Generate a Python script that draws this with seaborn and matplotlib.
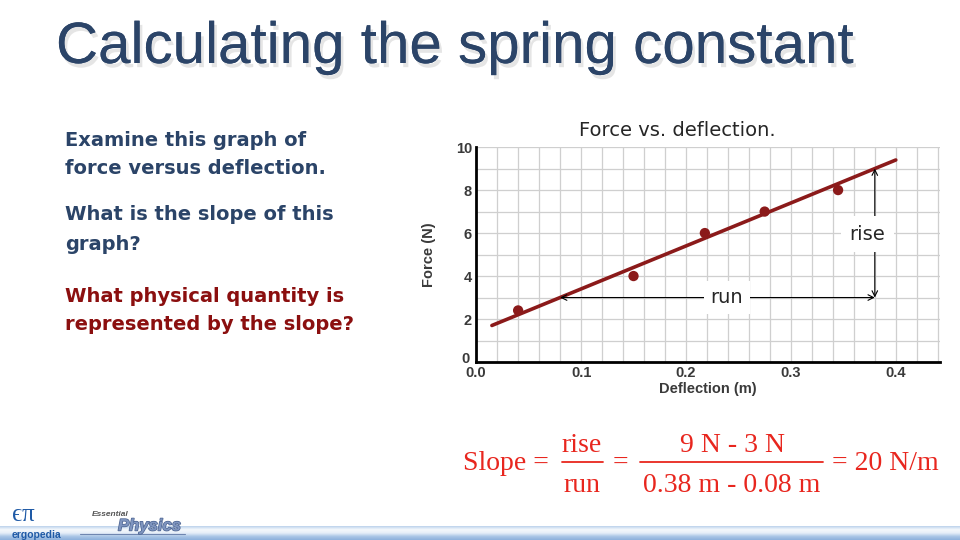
import numpy as np
import pandas as pd
import seaborn as sns
import matplotlib.pyplot as plt
from matplotlib.lines import Line2D
from matplotlib.ticker import MultipleLocator
from matplotlib.transforms import ScaledTranslation
import matplotlib.patheffects as pe

# measured points (deflection in m, force in N)
DEFLECTION = [0.04, 0.15, 0.218, 0.275, 0.345]
FORCE = [2.4, 4.0, 6.0, 7.0, 8.0]

# best-fit line end points
LINE_X = [0.015, 0.40]
LINE_Y = [1.7, 9.4]

X_TICKS = [0.0, 0.1, 0.2, 0.3, 0.4]
Y_TICKS = [0, 2, 4, 6, 8, 10]

RUN_X = [0.08, 0.38]
RISE_Y = [3, 9]

TITLE = "Calculating the spring constant"
LEFT_LINES = [
    ("Examine this graph of", 141, 'blue'),
    ("force versus deflection.", 169, 'blue'),
    ("What is the slope of this", 215, 'blue'),
    ("graph?", 245, 'blue'),
    ("What physical quantity is", 297, 'red'),
    ("represented by the slope?", 325, 'red'),
]
BLUE = "#2b4468"
DARK_RED = "#8b0f0f"
EQ_RED = "#e8261e"

sns.set_style("white")
plt.rcParams['font.family'] = ['Liberation Sans', 'DejaVu Sans']

fig = plt.figure(figsize=(9.6, 5.4), dpi=100)
fig.patch.set_facecolor("white")


def px(x, y):
    return x / 960, 1 - y / 540


# SLIDE TITLE
fig.text(*px(455, 63), TITLE, ha='center', va='baseline', fontsize=42, color=BLUE,
         path_effects=[pe.withSimplePatchShadow(offset=(2, -3), shadow_rgbFace='#9a9a9a', alpha=0.25),
                       pe.Normal()])

# LEFT TEXT
for line, y, c in LEFT_LINES:
    fig.text(*px(65, y), line, ha='left', va='center', fontsize=14, weight='bold',
             family='DejaVu Sans', color=BLUE if c == 'blue' else DARK_RED)

# GRAPH
ax = fig.add_axes([0.496, 0.3296, 0.483, 0.398])
pts = pd.DataFrame({'Deflection': DEFLECTION, 'Force': FORCE})
fit = pd.DataFrame({'Deflection': LINE_X, 'Force': LINE_Y})

sns.lineplot(data=fit, x='Deflection', y='Force', color='#8b1a1a', linewidth=2.6, ax=ax, zorder=3)
sns.scatterplot(data=pts, x='Deflection', y='Force', color='#8b1a1a', s=55, edgecolor='none',
                ax=ax, zorder=4)

ax.set_xlim(0, 0.442)
ax.set_ylim(0, 10)
ax.set_xticks(X_TICKS)
ax.set_yticks(Y_TICKS)
ax.set_xticklabels([f"{v:.1f}" for v in X_TICKS])
ax.xaxis.set_minor_locator(MultipleLocator(0.02))
ax.yaxis.set_minor_locator(MultipleLocator(1))
ax.grid(True, which='both', color='#cfcfcf', linewidth=0.9)
ax.set_axisbelow(True)
ax.tick_params(which='both', length=0, labelsize=10.5, labelcolor='#3a3a3a', pad=3)
for lab in ax.get_xticklabels() + ax.get_yticklabels():
    lab.set_fontweight('bold')
# nudge the y "0" up-left like the original
zero = ax.get_yticklabels()[0]
zero.set_transform(zero.get_transform() + ScaledTranslation(-2 / 100, 5 / 100, fig.dpi_scale_trans))
for side in ['top', 'right']:
    ax.spines[side].set_visible(False)
for side in ['left', 'bottom']:
    ax.spines[side].set_color('black')
    ax.spines[side].set_linewidth(2)

ax.set_xlabel("Deflection (m)", fontsize=10.5, weight='bold', color='#3a3a3a', labelpad=1)
ax.set_ylabel("Force (N)", fontsize=10.5, weight='bold', color='#3a3a3a', labelpad=14)

# run / rise arrows
ax.annotate("", xy=(RUN_X[0], RISE_Y[0]), xytext=(RUN_X[1], RISE_Y[0]),
            arrowprops=dict(arrowstyle='<->', color='black', lw=0.8, shrinkA=0, shrinkB=0), zorder=5)
ax.annotate("", xy=(RUN_X[1], RISE_Y[0]), xytext=(RUN_X[1], RISE_Y[1]),
            arrowprops=dict(arrowstyle='<->', color='black', lw=0.8, shrinkA=0, shrinkB=0), zorder=5)
ax.text(0.239, 3.0, "run", ha='center', va='center', fontsize=14, family='DejaVu Sans', zorder=6,
        bbox=dict(facecolor='white', edgecolor='none', pad=5))
ax.text(0.373, 5.95, "rise", ha='center', va='center', fontsize=14, family='DejaVu Sans', zorder=6,
        bbox=dict(facecolor='white', edgecolor='none', pad=6))

fig.text(*px(677, 131), "Force vs. deflection.", ha='center', va='center', fontsize=14,
         family='DejaVu Sans')

# SLOPE EQUATION
serif = ['Liberation Serif', 'DejaVu Serif']
eq = dict(fontsize=20, color=EQ_RED, family=serif, va='center')
fig.text(*px(463, 463), "Slope =", ha='left', **eq)
fig.text(*px(582, 445), "rise", ha='center', **eq)
fig.text(*px(582, 485), "run", ha='center', **eq)
fig.text(*px(620, 463), "=", ha='center', **eq)
fig.text(*px(732, 445), "9 N - 3 N", ha='center', **eq)
fig.text(*px(732, 485), "0.38 m - 0.08 m", ha='center', **eq)
fig.text(*px(832, 463), "= 20 N/m", ha='left', **eq)
for x0, x1 in [(562, 603), (640, 823)]:
    fig.add_artist(Line2D([x0 / 960, x1 / 960], [1 - 462 / 540] * 2, color=EQ_RED, lw=1.3))

# FOOTER BAND + LOGO
band = fig.add_axes([0, 0, 1, 14 / 540])
grad = np.linspace(0, 1, 60).reshape(-1, 1)
band_cmap = sns.blend_palette(['#8db1dc', '#a9c5e6', '#e6eef8', '#f4f8fc', '#bcd2ec'], as_cmap=True)
band.imshow(grad, aspect='auto', cmap=band_cmap, extent=[0, 1, 0, 1], origin='lower')
band.axis('off')

fig.text(*px(12, 521), "ϵπ", ha='left', va='baseline', fontsize=18, color='#1f5aa6', family=serif)
fig.text(*px(12, 538), "ergopedia", ha='left', va='baseline', fontsize=7.5, weight='bold', color='#1f5aa6')
fig.text(*px(92, 514), "Essential", ha='left', va='center', fontsize=6, style='italic',
         weight='bold', color='#555555')
fig.text(*px(118, 526), "Physics", ha='left', va='center', fontsize=12, style='italic',
         weight='bold', color='#7f95bf',
         path_effects=[pe.withStroke(linewidth=1, foreground='#4a6290')])
fig.add_artist(Line2D([80 / 960, 185 / 960], [1 - 534 / 540] * 2, color='#6f86b0', lw=0.8))

fig.savefig("out.png", dpi=100)
